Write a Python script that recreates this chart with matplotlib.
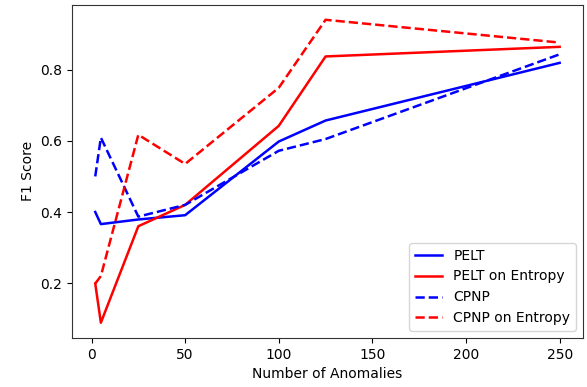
import matplotlib
matplotlib.use("Agg")
import matplotlib.pyplot as plt

x = [2, 5, 25, 50, 100, 125, 250]
pelt = [0.40, 0.366, 0.379, 0.391, 0.598, 0.657, 0.819]
pelt_entropy = [0.199, 0.089, 0.36, 0.42, 0.642, 0.837, 0.864]
cpnp = [0.50, 0.609, 0.387, 0.42, 0.572, 0.605, 0.843]
cpnp_entropy = [0.199, 0.22, 0.617, 0.535, 0.749, 0.94, 0.876]

fig, ax = plt.subplots(figsize=(5.87, 3.87), dpi=100)
lw = 1.8
ax.plot(x, pelt, color="blue", linestyle="-", lw=lw, label="PELT")
ax.plot(x, pelt_entropy, color="red", linestyle="-", lw=lw, label="PELT on Entropy")
ax.plot(x, cpnp, color="blue", linestyle="--", lw=lw, label="CPNP")
ax.plot(x, cpnp_entropy, color="red", linestyle="--", lw=lw, label="CPNP on Entropy")
ax.set_xlabel("Number of Anomalies")
ax.set_ylabel("F1 Score")
for s in ax.spines.values():
    s.set_color("#333333")
ax.legend(loc="lower right")
fig.subplots_adjust(left=0.1227, right=0.993, top=0.988, bottom=0.127)
fig.savefig("out.png", dpi=100)
